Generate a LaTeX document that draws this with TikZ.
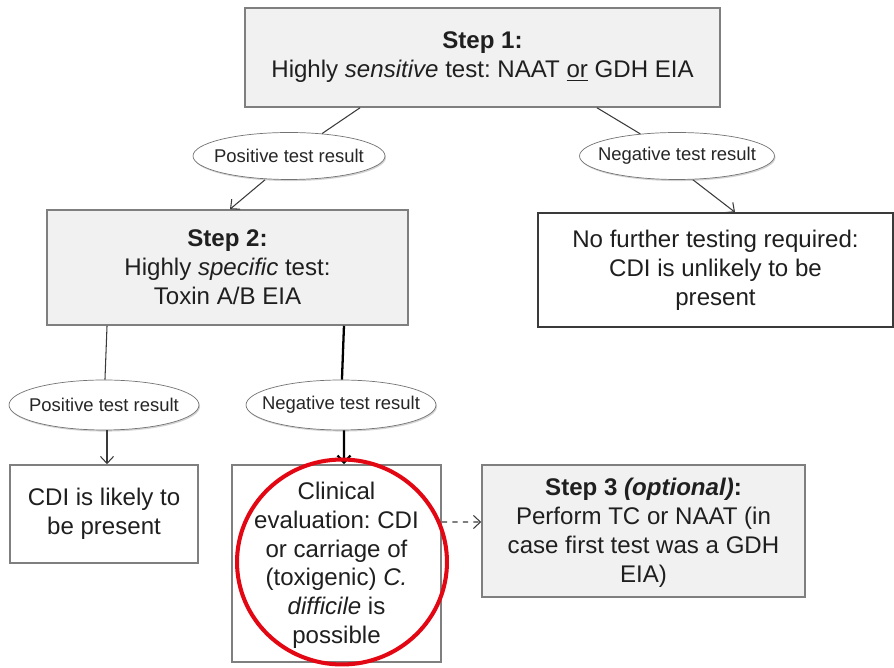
\documentclass[tikz,border=0pt]{standalone}
\usepackage{fontspec}
\setmainfont{Liberation Sans}
\frenchspacing
\usetikzlibrary{arrows.meta,shapes.geometric,shadows}
\definecolor{boxgrey}{HTML}{F1F1F1}
\definecolor{linegrey}{HTML}{7F7F7F}
\definecolor{inkgrey}{HTML}{3A3A3A}
\definecolor{markred}{HTML}{E30613}
\tikzset{%
  >={Straight Barb[length=1.4mm,width=2.6mm]},
  % Specifications for style of nodes:
            base/.style = {rectangle, draw=linegrey, line width=0.9pt,
                           inner sep=2pt, align=center, text=black!88,
                           font=\fontsize{13.7}{16.4}\selectfont},
		greystyle/.style = {base, fill=boxgrey},
		whitestyle/.style = {base, fill=white},
		resultstyle/.style = {ellipse, draw=black!55, fill=white, inner xsep=-0.6cm, inner ysep=0pt,
                           minimum width=3.8cm, minimum height=1cm, text=black!85,
                           font=\fontsize{10.5}{12}\selectfont,
                           drop shadow={opacity=0.35, shadow xshift=0.6pt, shadow yshift=-0.9pt}},
		link/.style = {draw=inkgrey, line width=0.6pt},
}

\begin{document}
\begin{tikzpicture}[x=0.02cm, y=-0.02cm]
  \useasboundingbox (0,0) rectangle (894,668);
  % Specification of nodes (position, etc.)
  \node (step1)	[greystyle, minimum width=9.5cm, minimum height=1.98cm]	at (482.5,57.5)
    {\textbf{Step 1:}\\Highly \textit{sensitive} test: NAAT \underline{or} GDH EIA};
  \node (posA)	[resultstyle, minimum width=3.84cm, minimum height=0.94cm]	at (289,156)	{Positive test result};
  \node (negA)	[resultstyle, minimum width=3.9cm, minimum height=0.94cm]	at (677,156)	{Negative test result};
  \node (step2)	[greystyle, minimum width=7.22cm, minimum height=2.3cm]	at (227.5,267.5)
    {\textbf{Step 2:}\\Highly \textit{specific} test:\\Toxin A/B EIA};
  \node (nofurther)	[whitestyle, draw=inkgrey, minimum width=7.1cm, minimum height=2.28cm]	at (715.5,270)
    {No further testing required:\\CDI is unlikely to be\\present};
  \node (posB)	[resultstyle]	at (104,405)	{Positive test result};
  \node (negB)	[resultstyle]	at (341,405)	{Negative test result};
  \node (likely)	[whitestyle, minimum width=3.76cm, minimum height=1.96cm]	at (104,514)
    {CDI is likely to\\be present};
  \node (clin)	[whitestyle, minimum width=4.18cm, minimum height=3.94cm]	at (336.5,563.5)
    {\rule{0pt}{12pt}Clinical\\evaluation: CDI\\or carriage of\\(toxigenic) \textit{C.}\\\textit{difficile} is\\possible};
  \node (step3)	[greystyle, minimum width=6.46cm, minimum height=2.64cm]	at (643.5,531)
    {\rule{0pt}{12pt}\textbf{Step 3 \textit{(optional)}:}\\Perform TC or NAAT (in\\case first test was a GDH\\EIA)};

  % Specification of lines between nodes specified above
	\draw[link]	([xshift=-2.45cm]step1.south) -- 	(posA);
	\draw[link, ->]	([xshift=-0.48cm]posA.south) -- 	([xshift=0.05cm]step2.north);
	\draw[link]	([xshift=2.29cm]step1.south) -- 	(negA);
	\draw[link, ->]	([xshift=0.32cm]negA.south) -- 	([xshift=0.39cm]nofurther.north);
	\draw[link]	([xshift=-2.41cm]step2.south) -- 	(posB);
	\draw[link, ->]	([xshift=0.06cm]posB.south) -- 	([xshift=0.06cm]likely.north);
	\draw[link, draw=black, line width=1.3pt]	([xshift=2.33cm]step2.south) -- 	(negB);
	\draw[link, draw=black, line width=1.3pt, ->]	([xshift=0.06cm]negB.south) -- 	([xshift=0.15cm]clin.north);
	\draw[link, dashed, ->]	([yshift=0.83cm]clin.east) -- 	([yshift=0.18cm]step3.west);

  % red mark round the clinical box
  \node (mark)	[ellipse, draw=markred, line width=2.3pt, minimum width=4.2cm, minimum height=4.1cm]	at (342,562) {};
\end{tikzpicture}
\end{document}
